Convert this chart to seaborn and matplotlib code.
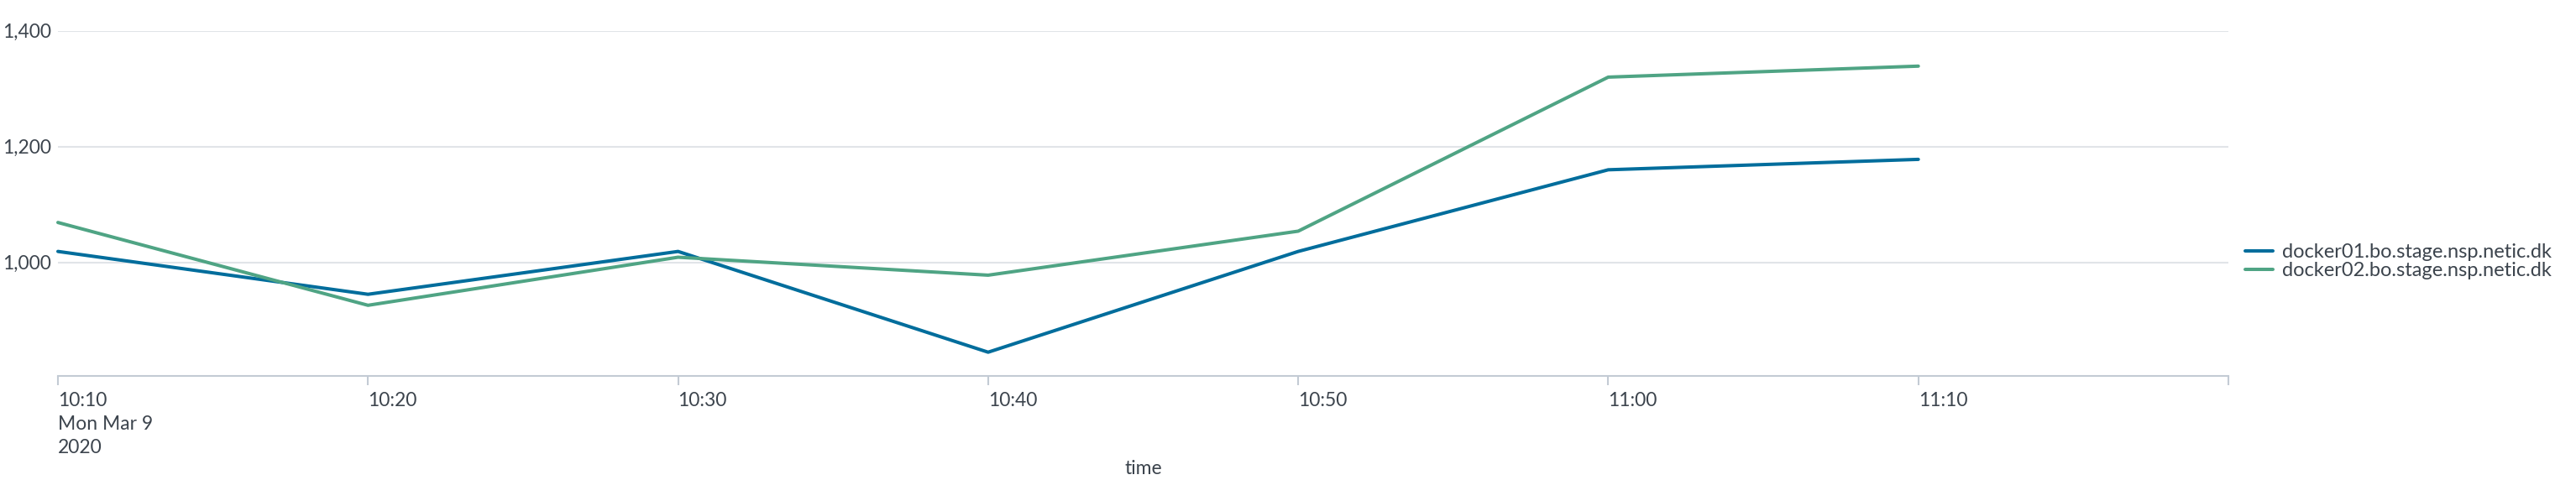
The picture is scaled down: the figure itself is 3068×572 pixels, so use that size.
import matplotlib
matplotlib.use("Agg")
import matplotlib.pyplot as plt
import matplotlib.ticker as mticker
import seaborn as sns
import pandas as pd

# ---- data ----
times = ["2020-03-09 10:10", "2020-03-09 10:20", "2020-03-09 10:30",
         "2020-03-09 10:40", "2020-03-09 10:50", "2020-03-09 11:00",
         "2020-03-09 11:10"]
hosts = ["docker01.bo.stage.nsp.netic.dk", "docker02.bo.stage.nsp.netic.dk"]
docker01 = [1019, 945, 1019, 845, 1019, 1160, 1178]
docker02 = [1069, 926, 1009, 978, 1054, 1320, 1339]
tick_times = times + ["2020-03-09 11:20"]
tick_labels = ["10:10\nMon Mar 9\n2020", "10:20", "10:30", "10:40",
               "10:50", "11:00", "11:10", ""]
y_ticks = [1000, 1200, 1400]
colors = ["#006d9c", "#4fa484"]

df = pd.DataFrame({
    "time": pd.to_datetime(times * 2),
    "value": docker01 + docker02,
    "host": [hosts[0]] * len(times) + [hosts[1]] * len(times),
})

# ---- style ----
sns.set_style("white")
plt.rcParams["font.family"] = ["Lato", "DejaVu Sans"]
text_color = "#3c444d"
grid_color = "#e1e4e8"
axis_color = "#c3cbd4"
fs = 16.5

fig = plt.figure(figsize=(30.68, 5.72), dpi=100)
ax = fig.add_axes([69 / 3068, 1 - 448 / 572, (2654 - 69) / 3068, (448 - 36.7) / 572])

sns.lineplot(data=df, x="time", y="value", hue="host", hue_order=hosts,
             palette=colors, linewidth=2.9, ax=ax, legend=True)

tt = pd.to_datetime(tick_times)
ax.set_xlim(tt[0], tt[-1])
ax.set_ylim(804, 1400)

ax.set_xticks(tt)
ax.set_xticklabels(tick_labels, ha="left", color=text_color, fontsize=fs,
                   linespacing=1.4)
ax.set_yticks(y_ticks)
ax.yaxis.set_major_formatter(mticker.FuncFormatter(lambda v, p: f"{int(v):,}"))
ax.tick_params(axis="y", length=0, pad=6, labelsize=fs, labelcolor=text_color)
ax.tick_params(axis="x", length=8, width=1.5, color=axis_color, pad=6,
               labelsize=fs, labelcolor=text_color, direction="out")
ax.xaxis.set_ticks_position("bottom")

ax.grid(axis="y", color=grid_color, linewidth=1.5)
ax.grid(axis="x", visible=False)
for side in ["top", "right", "left"]:
    ax.spines[side].set_visible(False)
ax.spines["bottom"].set_color(axis_color)
ax.spines["bottom"].set_linewidth(1.5)
ax.set_axisbelow(True)
for line in ax.lines:
    line.set_clip_on(False)

ax.set_ylabel("")
ax.set_xlabel("time", fontsize=fs, color=text_color)
ax.xaxis.set_label_coords(0.5, (448 - 548) / (448 - 36.7))

handles, labels = ax.get_legend_handles_labels()
ax.legend_.remove()
leg = fig.legend(handles, labels, loc="center left",
                 bbox_to_anchor=(2674 / 3068, 1 - 311.5 / 572),
                 frameon=False, fontsize=17, handlelength=1.4,
                 handletextpad=0.45, labelspacing=0.05, borderpad=0,
                 borderaxespad=0)
for t in leg.get_texts():
    t.set_color(text_color)

fig.savefig("out.png", dpi=100)
